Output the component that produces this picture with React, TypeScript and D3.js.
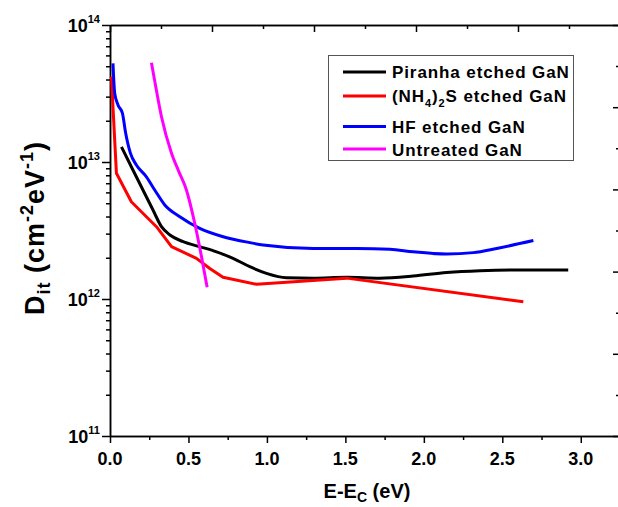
import React, { useEffect, useRef } from "react";
import * as d3 from "d3";

// Dit vs E-Ec for differently treated GaN surfaces
const piranhaX = [0.073, 0.147, 0.21, 0.274, 0.328, 0.382, 0.466, 0.572, 0.679, 0.784, 0.891, 0.997, 1.125, 1.295, 1.508, 1.72, 1.932, 2.145, 2.358, 2.57, 2.92];
const piranhaY = [1.29e13, 8.7e12, 6.25e12, 4.46e12, 3.37e12, 2.93e12, 2.62e12, 2.41e12, 2.21e12, 1.98e12, 1.72e12, 1.54e12, 1.43e12, 1.42e12, 1.44e12, 1.42e12, 1.47e12, 1.56e12, 1.61e12, 1.63e12, 1.63e12];

const sulfideX = [0.009, 0.041, 0.136, 0.296, 0.392, 0.551, 0.636, 0.72, 0.934, 1.508, 2.634];
const sulfideY = [4.2e13, 8.27e12, 5.13e12, 3.37e12, 2.41e12, 1.98e12, 1.67e12, 1.44e12, 1.28e12, 1.42e12, 9.55e11];

const hfX = [0.019, 0.03, 0.051, 0.079, 0.1, 0.13, 0.168, 0.232, 0.285, 0.349, 0.445, 0.572, 0.721, 0.891, 0.976, 1.295, 1.571, 1.784, 1.932, 2.145, 2.315, 2.464, 2.698];
const hfY = [5.25e13, 3.17e13, 2.61e13, 2.27e13, 1.62e13, 1.16e13, 9.5e12, 7.8e12, 6.25e12, 4.86e12, 3.99e12, 3.28e12, 2.85e12, 2.58e12, 2.48e12, 2.34e12, 2.34e12, 2.31e12, 2.21e12, 2.13e12, 2.18e12, 2.34e12, 2.67e12];

const untreatedX = [0.264, 0.285, 0.328, 0.392, 0.438, 0.487, 0.54, 0.583, 0.619];
const untreatedY = [5.3e13, 3.9e13, 2.14e13, 1.16e13, 8.55e12, 6.25e12, 3.57e12, 2.04e12, 1.22e12];

const xTicks = [0, 0.5, 1, 1.5, 2, 2.5, 3];
const yDecades = [11, 12, 13, 14];

const App = () => {
  const svgRef = useRef(null);

  useEffect(() => {
    const svg = d3.select(svgRef.current);
    svg.selectAll("*").remove();

    const left = 110, right = 620, top = 25, bottom = 436;
    const font = "'Liberation Sans', Arial, sans-serif";

    const x = d3.scaleLinear().domain([0, 3.25]).range([left, right]);
    const y = d3.scaleLog().domain([1e11, 1e14]).range([bottom, top]);
    // top and right frame axes carry plain linear ticks, no labels
    const xTop = d3.scaleLinear().domain([0, 5]).range([left, right]);
    const yRight = d3.scaleLinear().domain([0, 5]).range([bottom, top]);

    const styleAxis = (g) => {
      g.selectAll("path, line").attr("stroke", "#000").attr("stroke-width", 1.5);
      g.selectAll("text").remove();
    };

    // bottom axis
    const minorX = d3.range(0, 3.26, 0.25).filter((v) => Math.abs((v * 2) % 1) > 0.01);
    svg.append("g").attr("transform", `translate(0,${bottom})`)
      .call(d3.axisBottom(x).tickValues(xTicks).tickSize(7).tickSizeOuter(0).tickFormat(() => ""))
      .call(styleAxis);
    svg.append("g").attr("transform", `translate(0,${bottom})`)
      .call(d3.axisBottom(x).tickValues(minorX).tickSize(4).tickSizeOuter(0).tickFormat(() => ""))
      .call(styleAxis);

    // left axis (log)
    const minorY = [];
    yDecades.slice(0, 3).forEach((d) => {
      for (let k = 2; k <= 9; k++) minorY.push(k * Math.pow(10, d));
    });
    svg.append("g").attr("transform", `translate(${left},0)`)
      .call(d3.axisLeft(y).tickValues(yDecades.map((d) => Math.pow(10, d))).tickSize(8).tickSizeOuter(0).tickFormat(() => ""))
      .call(styleAxis);
    svg.append("g").attr("transform", `translate(${left},0)`)
      .call(d3.axisLeft(y).tickValues(minorY).tickSize(4).tickSizeOuter(0).tickFormat(() => ""))
      .call(styleAxis);

    // top axis (inward ticks)
    svg.append("g").attr("transform", `translate(0,${top})`)
      .call(d3.axisTop(xTop).ticks(5).tickSize(-7).tickSizeOuter(0).tickFormat(() => ""))
      .call(styleAxis);
    svg.append("g").attr("transform", `translate(0,${top})`)
      .call(d3.axisTop(xTop).tickValues([0.5, 1.5, 2.5, 3.5, 4.5]).tickSize(-4).tickSizeOuter(0).tickFormat(() => ""))
      .call(styleAxis);

    // right axis (inward ticks)
    svg.append("g").attr("transform", `translate(${right},0)`)
      .call(d3.axisRight(yRight).ticks(5).tickSize(-7).tickSizeOuter(0).tickFormat(() => ""))
      .call(styleAxis);
    svg.append("g").attr("transform", `translate(${right},0)`)
      .call(d3.axisRight(yRight).tickValues([0.5, 1.5, 2.5, 3.5, 4.5]).tickSize(-4).tickSizeOuter(0).tickFormat(() => ""))
      .call(styleAxis);

    // x tick labels
    svg.append("g").selectAll("text").data(xTicks).join("text")
      .attr("x", (d) => x(d))
      .attr("y", 465)
      .attr("text-anchor", "middle")
      .attr("font-family", font)
      .attr("font-weight", "bold")
      .attr("font-size", 18)
      .text((d) => d.toFixed(1));

    // y tick labels 10^n
    const yl = svg.append("g").selectAll("text").data(yDecades).join("text")
      .attr("x", 100)
      .attr("y", (d) => y(Math.pow(10, d)) + 7)
      .attr("text-anchor", "end")
      .attr("font-family", font)
      .attr("font-weight", "bold")
      .attr("font-size", 18);
    yl.append("tspan").text("10");
    yl.append("tspan").attr("font-size", 11).attr("dy", -9).text((d) => d);

    // x axis title
    const xt = svg.append("text")
      .attr("x", 367).attr("y", 498)
      .attr("text-anchor", "middle")
      .attr("font-family", font).attr("font-weight", "bold").attr("font-size", 20);
    xt.append("tspan").text("E-E");
    xt.append("tspan").attr("font-size", 14).attr("dy", 4).text("C");
    xt.append("tspan").attr("dy", -4).text(" (eV)");

    // y axis title
    const yt = svg.append("text")
      .attr("transform", `translate(44,228) rotate(-90)`)
      .attr("text-anchor", "middle")
      .attr("font-family", font).attr("font-weight", "bold").attr("font-size", 27)
      .attr("letter-spacing", 1);
    yt.append("tspan").text("D");
    yt.append("tspan").attr("font-size", 18).attr("dy", 6).text("it");
    yt.append("tspan").attr("dy", -6).text(" (cm");
    yt.append("tspan").attr("font-size", 18).attr("dy", -11).text("-2");
    yt.append("tspan").attr("dy", 11).text("eV");
    yt.append("tspan").attr("font-size", 18).attr("dy", -11).text("-1");
    yt.append("tspan").attr("dy", 11).text(")");

    // series
    const series = [
      { xs: piranhaX, ys: piranhaY, color: "#000000", curve: d3.curveMonotoneX },
      { xs: sulfideX, ys: sulfideY, color: "#ff0000", curve: d3.curveLinear },
      { xs: hfX, ys: hfY, color: "#0000ff", curve: d3.curveMonotoneX },
      { xs: untreatedX, ys: untreatedY, color: "#ff00ff", curve: d3.curveMonotoneX },
    ];
    series.forEach((s) => {
      const pts = s.xs.map((v, i) => [v, s.ys[i]]);
      const line = d3.line().x((d) => x(d[0])).y((d) => y(d[1])).curve(s.curve);
      svg.append("path")
        .attr("d", line(pts))
        .attr("fill", "none")
        .attr("stroke", s.color)
        .attr("stroke-width", 3)
        .attr("stroke-linejoin", "round");
    });

    // legend
    const lg = svg.append("g");
    lg.append("rect")
      .attr("x", 328.5).attr("y", 55.5).attr("width", 245).attr("height", 105)
      .attr("fill", "#fff").attr("stroke", "#555").attr("stroke-width", 1);
    const entries = [
      { color: "#000000", ly: 72, ty: 78, parts: [["Piranha etched GaN", 0]] },
      { color: "#ff0000", ly: 96, ty: 102, parts: [["(NH", 0], ["4", 5], [")", -5], ["2", 5], ["S etched GaN", -5]] },
      { color: "#0000ff", ly: 126.5, ty: 132.5, parts: [["HF etched GaN", 0]] },
      { color: "#ff00ff", ly: 149, ty: 155.5, parts: [["Untreated GaN", 0]] },
    ];
    entries.forEach((e) => {
      lg.append("line")
        .attr("x1", 343).attr("x2", 386).attr("y1", e.ly).attr("y2", e.ly)
        .attr("stroke", e.color).attr("stroke-width", 3);
      const t = lg.append("text")
        .attr("x", 392).attr("y", e.ty)
        .attr("font-family", font).attr("font-weight", "bold").attr("font-size", 17)
        .attr("letter-spacing", 0.9);
      e.parts.forEach(([str, dy]) => {
        const sp = t.append("tspan").attr("dy", dy).text(str);
        if (dy > 0) sp.attr("font-size", 11);
      });
    });
  }, []);

  return (
    <svg
      ref={svgRef}
      width={618}
      height={507}
      style={{ position: "absolute", left: 0, top: 0, background: "#fff" }}
    ></svg>
  );
};

export default App;
